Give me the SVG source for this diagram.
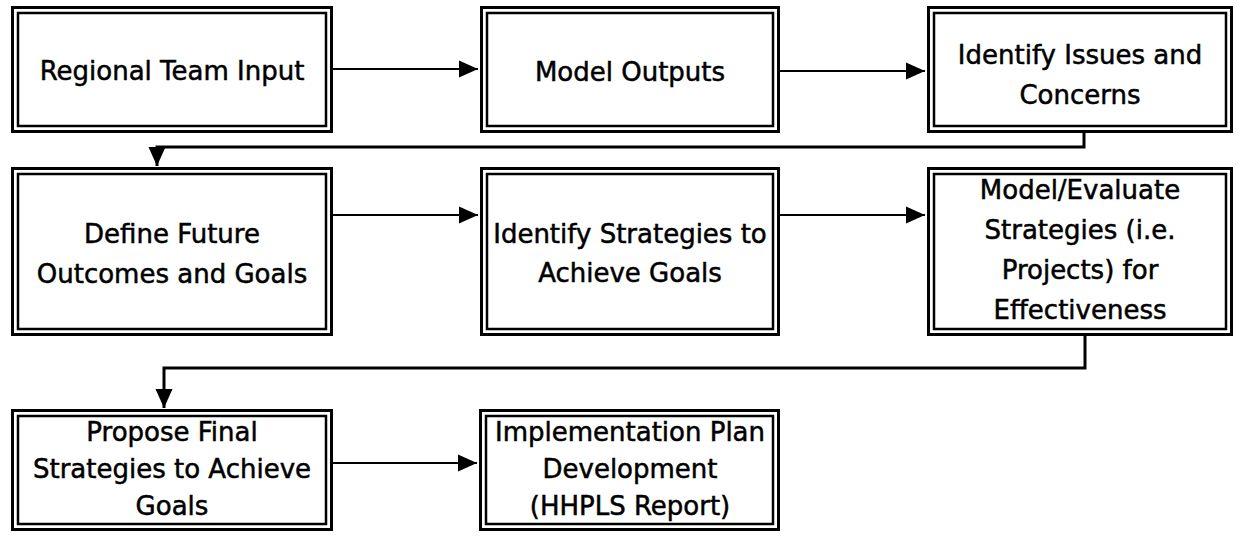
<svg xmlns="http://www.w3.org/2000/svg" width="1239" height="537" viewBox="0 0 1239 537">
<style>
.o{fill:#fff;stroke:#000;stroke-width:3}
.i{fill:none;stroke:#000;stroke-width:2.5}
.t{font-family:"DejaVu Sans",sans-serif;font-size:26px;fill:#000;stroke:#000;stroke-width:0.5;text-anchor:middle}
.c{fill:none;stroke:#000;stroke-width:2}
.c3{fill:none;stroke:#000;stroke-width:3}
</style>
<defs>
<marker id="ah" markerUnits="userSpaceOnUse" markerWidth="19" markerHeight="19" refX="19" refY="9.5" orient="auto" viewBox="0 0 19 19">
<path d="M0,1 L19,9.5 L0,18 z" fill="#000"/>
</marker>
</defs>
<rect width="1239" height="537" fill="#fff"/>
<g id="connectors">
<path class="c" d="M333,69 H478" marker-end="url(#ah)"/>
<path class="c" d="M780,71 H925" marker-end="url(#ah)"/>
<path class="c3" d="M1084,133 V147 H157 V166" marker-end="url(#ah)"/>
<path class="c" d="M333,215 H478" marker-end="url(#ah)"/>
<path class="c" d="M780,215 H925" marker-end="url(#ah)"/>
<path class="c3" d="M1085,336 V368 H164 V408" marker-end="url(#ah)"/>
<path class="c" d="M333,463 H477" marker-end="url(#ah)"/>
</g>
<g id="n1">
<rect class="o" x="12.5" y="7.5" width="319" height="124"/>
<rect class="i" x="18" y="13" width="308" height="113"/>
<text class="t" x="172" y="80">Regional Team Input</text>
</g>
<g id="n2">
<rect class="o" x="481.5" y="7.5" width="297" height="124"/>
<rect class="i" x="487" y="13" width="286" height="113"/>
<text class="t" x="630" y="81">Model Outputs</text>
</g>
<g id="n3">
<rect class="o" x="928.5" y="7.5" width="303" height="124"/>
<rect class="i" x="934" y="13" width="292" height="113"/>
<text class="t" x="1080" y="64">Identify Issues and</text>
<text class="t" x="1080" y="104">Concerns</text>
</g>
<g id="n4">
<rect class="o" x="12.5" y="168.5" width="319" height="166"/>
<rect class="i" x="18" y="174" width="308" height="155"/>
<text class="t" x="172" y="243">Define Future</text>
<text class="t" x="172" y="283">Outcomes and Goals</text>
</g>
<g id="n5">
<rect class="o" x="481.5" y="168.5" width="297" height="166"/>
<rect class="i" x="487" y="174" width="286" height="155"/>
<text class="t" x="630" y="243">Identify Strategies to</text>
<text class="t" x="630" y="282">Achieve Goals</text>
</g>
<g id="n6">
<rect class="o" x="928.5" y="168.5" width="303" height="166"/>
<rect class="i" x="934" y="174" width="292" height="155"/>
<text class="t" x="1080" y="199">Model/Evaluate</text>
<text class="t" x="1080" y="239">Strategies (i.e.</text>
<text class="t" x="1080" y="279">Projects) for</text>
<text class="t" x="1080" y="319">Effectiveness</text>
</g>
<g id="n7">
<rect class="o" x="12.5" y="410.5" width="319" height="119"/>
<rect class="i" x="18" y="416" width="308" height="108"/>
<text class="t" x="172" y="441">Propose Final</text>
<text class="t" x="172" y="478">Strategies to Achieve</text>
<text class="t" x="172" y="515">Goals</text>
</g>
<g id="n8">
<rect class="o" x="480.5" y="410.5" width="298" height="119"/>
<rect class="i" x="486" y="416" width="287" height="108"/>
<text class="t" x="630" y="441">Implementation Plan</text>
<text class="t" x="630" y="478">Development</text>
<text class="t" x="630" y="515">(HHPLS Report)</text>
</g>
</svg>
